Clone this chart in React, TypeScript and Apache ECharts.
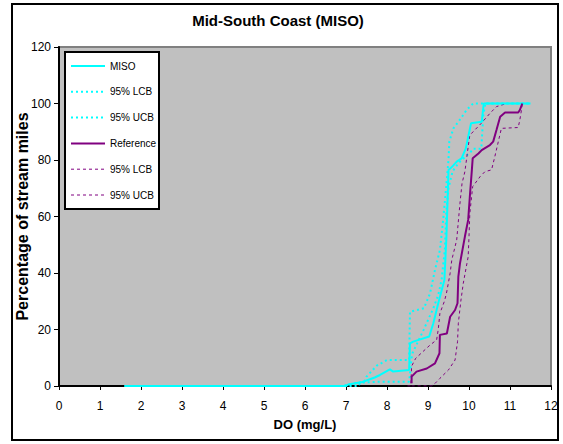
import React, { useEffect, useRef } from "react";
import * as echarts from "echarts";

const xTicks = [0, 1, 2, 3, 4, 5, 6, 7, 8, 9, 10, 11, 12];
const yTicks = [0, 20, 40, 60, 80, 100, 120];

const misoCdf: number[][] = [
  [1.6, 0], [7.0, 0], [7.05, 0.5], [7.4, 1.4], [7.7, 3], [7.83, 3.9], [8.07, 5.9], [8.15, 5.1],
  [8.54, 5.7], [8.56, 15.1], [8.64, 15.7], [9.03, 17.5], [9.13, 22.2], [9.25, 29.3], [9.4, 37.5],
  [9.45, 52.9], [9.5, 76.5], [9.58, 77.5], [9.7, 79.4], [9.82, 80.6], [9.92, 84], [10.05, 93],
  [10.31, 93.5], [10.36, 100], [11.5, 100],
];
const misoLcb: number[][] = [
  [1.6, 0], [7.3, 0], [7.35, 1.2], [7.83, 1.5], [8.54, 1.5], [8.6, 10], [8.62, 11.6], [8.89, 19.8],
  [9.13, 27.5], [9.25, 32.2], [9.33, 37.5], [9.41, 48.1], [9.45, 62.3], [9.5, 70], [9.6, 76],
  [9.75, 79], [10.05, 83], [10.1, 84], [10.3, 84], [10.35, 96], [10.4, 100], [11.5, 100],
];
const misoUcb: number[][] = [
  [1.6, 0], [6.9, 0], [7.1, 0.6], [7.45, 1.6], [7.5, 3.3], [7.75, 7.2], [8.0, 9.2], [8.54, 9.2],
  [8.56, 26.3], [8.9, 27.5], [9.05, 32.8], [9.17, 41.1], [9.29, 48.1], [9.37, 58.8], [9.45, 71.7],
  [9.5, 80], [9.52, 86.5], [9.62, 91.2], [9.8, 94.7], [9.94, 97.7], [10.1, 100], [11.5, 100],
];
const refCdf: number[][] = [
  [8.6, 1], [8.6, 3.3], [8.72, 5.1], [8.97, 6.2], [9.17, 8.0], [9.28, 11.6], [9.29, 18.1],
  [9.46, 18.6], [9.54, 24.5], [9.66, 26.9], [9.72, 29.3], [9.74, 38.7], [9.78, 43.4], [9.9, 52.9],
  [9.98, 58.8], [10.02, 67], [10.07, 76.5], [10.09, 80.6], [10.23, 82.3], [10.31, 83.5],
  [10.51, 85.3], [10.59, 86.5], [10.67, 90.6], [10.76, 95.3], [10.88, 96.8], [11.2, 96.8],
  [11.24, 97.7], [11.3, 100],
];
const refLcb: number[][] = [
  [8.6, 0], [9.09, 0], [9.17, 0.9], [9.29, 2.7], [9.5, 5.7], [9.66, 9.2], [9.72, 15.7],
  [9.74, 22.2], [9.8, 30], [9.86, 36.3], [9.98, 45.8], [10.0, 52.9], [10.02, 61.1], [10.09, 70.6],
  [10.27, 74.1], [10.39, 75.9], [10.55, 76.5], [10.63, 81.2], [10.79, 91.2], [11.2, 91.5],
  [11.24, 94.2], [11.28, 97.7], [11.3, 100],
];
const refUcb: number[][] = [
  [8.5, 0], [8.58, 0], [8.6, 7], [8.7, 9.8], [8.9, 12.5], [9.05, 14.5], [9.21, 16.3], [9.25, 20],
  [9.29, 25.7], [9.4, 30], [9.45, 32.8], [9.54, 39.9], [9.58, 44.6], [9.7, 51.7], [9.75, 59.9],
  [9.78, 64.7], [9.83, 71.7], [9.9, 75.9], [9.98, 84.7], [10.02, 88.8], [10.3, 93], [10.51, 96.5],
  [10.67, 98.9], [10.92, 100], [11.3, 100],
];

const seriesNames = ["MISO", "MISO LCB", "MISO UCB", "Reference", "Ref LCB", "Ref UCB"];
const legendLabels = ["MISO", "95% LCB", "95% UCB", "Reference", "95% LCB", "95% UCB"];

const FONT = "'Liberation Sans', Arial, sans-serif";
const CYAN = "#00FFFF";
const PURPLE = "#800080";

export default function App() {
  const ref = useRef<HTMLDivElement>(null);
  useEffect(() => {
    document.body.style.margin = "0";
    const chart = echarts.init(ref.current!, null, { renderer: "svg" });
    const data = [misoCdf, misoLcb, misoUcb, refCdf, refLcb, refUcb];
    const styles: any[] = [
      { color: CYAN, width: 2, type: "solid" },
      { color: CYAN, width: 2, type: [2, 3] },
      { color: CYAN, width: 2, type: [2, 3] },
      { color: PURPLE, width: 2, type: "solid" },
      { color: PURPLE, width: 1, type: [3, 3] },
      { color: PURPLE, width: 1, type: [3, 3] },
    ];
    const legendTop = 66;
    const legendStep = 25.8;
    const legendItems: any[] = [];
    legendLabels.forEach((lab, i) => {
      const y = legendTop + i * legendStep;
      legendItems.push({
        type: "line", silent: true, z: 101,
        shape: { x1: 71, y1: y, x2: 105, y2: y },
        style: { stroke: styles[i].color, lineWidth: styles[i].width, lineDash: styles[i].type === "solid" ? null : styles[i].type },
      });
      legendItems.push({
        type: "text", silent: true, z: 101, x: 110, y,
        style: { text: lab, fill: "#000", font: `10px ${FONT}`, textVerticalAlign: "middle" },
      });
    });
    chart.setOption({
      animation: false,
      backgroundColor: "#ffffff",
      textStyle: { fontFamily: FONT },
      grid: {
        left: 59, right: 12, top: 47, bottom: 58,
        show: true, backgroundColor: "#C0C0C0", borderColor: "#808080", borderWidth: 2,
      },
      xAxis: {
        type: "value", min: 0, max: 12, interval: 1,
        name: "DO (mg/L)", nameLocation: "middle", nameGap: 32,
        nameTextStyle: { fontSize: 13, fontWeight: "bold", color: "#000", fontFamily: FONT },
        axisLine: { lineStyle: { color: "#000", width: 2 } },
        axisTick: { show: true, inside: false, length: 4, lineStyle: { color: "#000" } },
        axisLabel: {
          color: "#000", fontSize: 12, fontFamily: FONT, margin: 14,
          formatter: (v: number) => (xTicks.includes(v) ? String(v) : ""),
        },
        splitLine: { show: false },
      },
      yAxis: {
        type: "value", min: 0, max: 120, interval: 20,
        name: "Percentage of stream miles", nameLocation: "middle", nameGap: 29,
        nameMoveOverlap: false,
        nameTextStyle: { fontSize: 16, fontWeight: "bold", color: "#000", fontFamily: FONT },
        axisLine: { show: true, lineStyle: { color: "#000", width: 2 } },
        axisTick: { show: true, inside: false, length: 5, lineStyle: { color: "#000" } },
        axisLabel: {
          color: "#000", fontSize: 12, fontFamily: FONT, margin: 8,
          formatter: (v: number) => (yTicks.includes(v) ? String(v) : ""),
        },
        splitLine: { show: false },
      },
      graphic: [
        {
          type: "rect", silent: true, z: 100,
          shape: { x: 12, y: 4, width: 546, height: 436 },
          style: { fill: "none", stroke: "#000", lineWidth: 2 },
        },
        {
          type: "text", x: 278, y: 20, silent: true,
          style: {
            text: "Mid-South Coast (MISO)", fill: "#000",
            font: `bold 15px ${FONT}`, textAlign: "center", textVerticalAlign: "middle",
          },
        },
        {
          type: "rect", silent: true, z: 100,
          shape: { x: 65, y: 52, width: 94, height: 157 },
          style: { fill: "#ffffff", stroke: "#000", lineWidth: 2 },
        },
        ...legendItems,
      ],
      series: data.map((d, i) => ({
        name: seriesNames[i],
        type: "line",
        data: d,
        symbol: "none",
        showSymbol: false,
        lineStyle: styles[i],
        itemStyle: { color: styles[i].color },
        z: i === 0 || i === 3 ? 3 : 2,
      })),
    });
    return () => chart.dispose();
  }, []);
  return <div ref={ref} style={{ width: 563, height: 444 }} />;
}
